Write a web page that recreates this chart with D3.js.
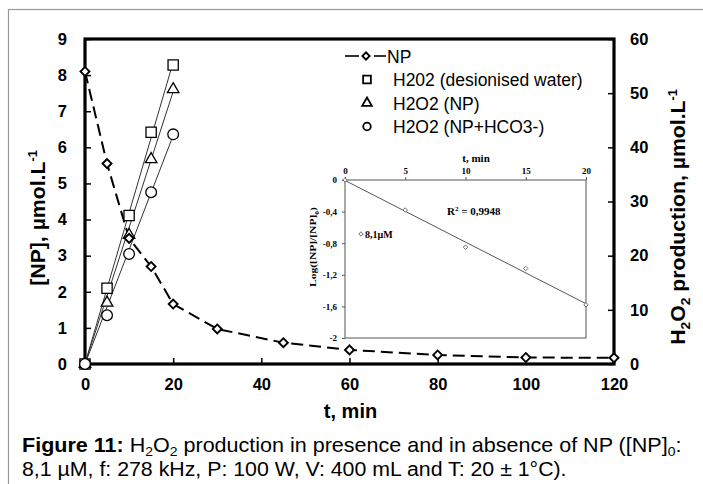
<!DOCTYPE html>
<html>
<head>
<meta charset="utf-8">
<script src="https://cdn.jsdelivr.net/npm/d3@7"></script>
<style>
  body { margin: 0; background: #fff; }
  svg text { font-family: "Liberation Sans", Arial, sans-serif; }
  .serif text { font-family: "Liberation Serif", "Times New Roman", serif; }
</style>
</head>
<body>
<div id="chart"></div>
<script>
// main chart data
const tNP = [0, 5, 10, 15, 20, 30, 45, 60, 80, 100, 120];
const npConc = [8.1, 5.55, 3.48, 2.7, 1.66, 0.97, 0.59, 0.39, 0.25, 0.18, 0.17];

const tH2O2 = [0, 5, 10, 15, 20];
const h2o2Water = [0, 14.0, 27.4, 42.8, 55.2];
const h2o2NP = [0, 11.3, 23.8, 37.8, 50.7];
const h2o2Hco3 = [0, 9.0, 20.3, 31.7, 42.4];

const xTicks = [0, 20, 40, 60, 80, 100, 120];
const yLeftTicks = [0, 1, 2, 3, 4, 5, 6, 7, 8, 9];
const yRightTicks = [0, 10, 20, 30, 40, 50, 60];

const legendLabels = ["NP", "H202 (desionised water)", "H2O2 (NP)", "H2O2 (NP+HCO3-)"];

// inset data
const tInset = [0, 5, 10, 15, 20];
const logRatio = [0, -0.38, -0.85, -1.12, -1.58];
const insetXTicks = [0, 5, 10, 15, 20];
const insetYTicks = [0, -0.4, -0.8, -1.2, -1.6, -2];

const W = 703, H = 484;
const m = {left: 85, right: 614, top: 39, bottom: 364};

const svg = d3.select("#chart").append("svg")
    .attr("width", W).attr("height", H);

// outer grey frame
svg.append("rect")
    .attr("x", 8.5).attr("y", 9.5)
    .attr("width", 720).attr("height", 500)
    .attr("fill", "none").attr("stroke", "#999").attr("stroke-width", 1.2);

const x = d3.scaleLinear().domain([0, 120]).range([m.left, m.right]);
const yL = d3.scaleLinear().domain([0, 9]).range([m.bottom, m.top]);
const yR = d3.scaleLinear().domain([0, 60]).range([m.bottom, m.top]);

const fmtComma = d => String(d).replace(".", ",");

// stretch a text node along its length to a target width
function stretch(sel, target, tx, ty, rot) {
    const w = sel.node().getBBox().width;
    const k = target / w;
    sel.attr("transform", `translate(${tx},${ty})${rot ? " rotate(" + rot + ")" : ""} scale(${k},1)`);
}

// axes (ticks inward)
const axX = svg.append("g")
    .attr("transform", `translate(0,${m.bottom})`)
    .call(d3.axisBottom(x).tickValues(xTicks).tickSize(-6).tickPadding(14));
const axL = svg.append("g")
    .attr("transform", `translate(${m.left},0)`)
    .call(d3.axisLeft(yL).tickValues(yLeftTicks).tickSize(-6).tickPadding(18));
const axR = svg.append("g")
    .attr("transform", `translate(${m.right},0)`)
    .call(d3.axisRight(yR).tickValues(yRightTicks).tickSize(-6).tickPadding(16));

[axX, axL, axR].forEach(a => {
    a.select(".domain").remove();
    a.selectAll(".tick line").attr("stroke", "#000").attr("stroke-width", 1.5);
    a.selectAll(".tick text")
        .attr("font-size", 16.5).attr("font-weight", "bold").attr("fill", "#000");
});
axX.selectAll(".tick text").attr("dy", "0.71em");

// thick plot box
svg.append("rect")
    .attr("x", m.left).attr("y", m.top)
    .attr("width", m.right - m.left).attr("height", m.bottom - m.top)
    .attr("fill", "none").attr("stroke", "#000").attr("stroke-width", 3.2);

// axis titles
svg.append("text")
    .attr("x", (m.left + m.right) / 2 + 1).attr("y", 418)
    .attr("text-anchor", "middle")
    .attr("font-size", 20).attr("font-weight", "bold")
    .text("t, min");

const yLab = svg.append("text")
    .attr("text-anchor", "middle")
    .attr("font-size", 20).attr("font-weight", "bold");
yLab.append("tspan").text("[NP], µmol.L");
yLab.append("tspan").attr("dy", -8).attr("font-size", 12).text("-1");
stretch(yLab, 136, 45, 218, -90);

const yRLab = svg.append("text")
    .attr("text-anchor", "middle")
    .attr("font-size", 20).attr("font-weight", "bold");
yRLab.append("tspan").text("H");
yRLab.append("tspan").attr("dy", 5).attr("font-size", 13).text("2");
yRLab.append("tspan").attr("dy", -5).text("O");
yRLab.append("tspan").attr("dy", 5).attr("font-size", 13).text("2");
yRLab.append("tspan").attr("dy", -5).text(" production, µmol.L");
yRLab.append("tspan").attr("dy", -8).attr("font-size", 12).text("-1");
stretch(yRLab, 256, 685, 217, -90);

// linear fit helper
function fit(xs, ys) {
    const mx = d3.mean(xs), my = d3.mean(ys);
    let sxy = 0, sxx = 0;
    xs.forEach((v, i) => {
        sxy += (v - mx) * (ys[i] - my);
        sxx += (v - mx) ** 2;
    });
    const b = sxy / sxx;
    return {b: b, a: my - b * mx};
}

// H2O2 trend lines
const h2o2Series = [
    {vals: h2o2Water, sym: d3.symbolSquare, size: 105},
    {vals: h2o2NP, sym: d3.symbolTriangle, size: 58},
    {vals: h2o2Hco3, sym: d3.symbolCircle, size: 90}
];
h2o2Series.forEach(s => {
    const f = fit(tH2O2, s.vals);
    const x0 = d3.min(tH2O2), x1 = d3.max(tH2O2);
    svg.append("line")
        .attr("x1", x(x0)).attr("y1", yR(Math.max(0, f.a + f.b * x0)))
        .attr("x2", x(x1)).attr("y2", yR(f.a + f.b * x1))
        .attr("stroke", "#333").attr("stroke-width", 1);
});

// NP dashed line
svg.append("path")
    .datum(tNP.map((t, i) => [t, npConc[i]]))
    .attr("fill", "none").attr("stroke", "#000").attr("stroke-width", 2)
    .attr("stroke-dasharray", "12,6")
    .attr("d", d3.line().x(d => x(d[0])).y(d => yL(d[1])));

// markers
function marker(g, sym, size, rot) {
    return g.append("path")
        .attr("d", d3.symbol().type(sym).size(size))
        .attr("transform", rot ? `rotate(${rot})` : null)
        .attr("fill", "#fff").attr("stroke", "#000").attr("stroke-width", 1.3);
}
h2o2Series.forEach(s => {
    s.vals.forEach((v, i) => {
        marker(svg.append("g").attr("transform", `translate(${x(tH2O2[i])},${yR(v)})`), s.sym, s.size);
    });
});
tNP.forEach((t, i) => {
    marker(svg.append("g").attr("transform", `translate(${x(t)},${yL(npConc[i])})`), d3.symbolSquare, 40, 45)
        .attr("stroke-width", 1.9);
});

// legend
const legRows = [56, 79.5, 103, 126.5];
const leg = svg.append("g");
leg.append("line").attr("x1", 345).attr("x2", 359).attr("y1", legRows[0]).attr("y2", legRows[0])
    .attr("stroke", "#000").attr("stroke-width", 1.6);
leg.append("line").attr("x1", 374).attr("x2", 386).attr("y1", legRows[0]).attr("y2", legRows[0])
    .attr("stroke", "#000").attr("stroke-width", 1.6);
marker(leg.append("g").attr("transform", `translate(366,${legRows[0]})`), d3.symbolSquare, 26, 45)
    .attr("stroke-width", 1.9);
const legSyms = [null, {t: d3.symbolSquare, s: 60}, {t: d3.symbolTriangle, s: 40}, {t: d3.symbolCircle, s: 45}];
legendLabels.forEach((label, i) => {
    const y = legRows[i];
    if (legSyms[i]) {
        marker(leg.append("g").attr("transform", `translate(367,${y})`), legSyms[i].t, legSyms[i].s)
            .attr("stroke-width", 1.8);
    }
    leg.append("text").attr("x", i === 0 ? 387 : 393).attr("y", y + 6.5)
        .attr("font-size", 17.5).text(label);
});

// inset
const ins = {left: 345, right: 586, top: 180, bottom: 338};
const xi = d3.scaleLinear().domain([0, 20]).range([ins.left, ins.right]);
const yi = d3.scaleLinear().domain([-2, 0]).range([ins.bottom, ins.top]);
const inset = svg.append("g").attr("class", "serif");

inset.append("rect")
    .attr("x", ins.left).attr("y", ins.top)
    .attr("width", ins.right - ins.left).attr("height", ins.bottom - ins.top)
    .attr("fill", "#fff").attr("stroke", "#555").attr("stroke-width", 1);

const iax = inset.append("g").attr("transform", `translate(0,${ins.top})`)
    .call(d3.axisTop(xi).tickValues(insetXTicks).tickSize(3).tickPadding(3));
const iay = inset.append("g").attr("transform", `translate(${ins.left},0)`)
    .call(d3.axisLeft(yi).tickValues(insetYTicks).tickSize(3).tickPadding(5)
        .tickFormat(d => d === 0 ? "0" : fmtComma(d)));
[iax, iay].forEach(a => {
    a.select(".domain").remove();
    a.selectAll(".tick line").attr("stroke", "#555");
    a.selectAll(".tick text").attr("font-size", 9).attr("font-weight", "bold").attr("fill", "#000");
});

inset.append("text").attr("x", 476).attr("y", 162)
    .attr("text-anchor", "middle").attr("font-size", 11).attr("font-weight", "bold")
    .text("t, min");

const iyl = inset.append("text")
    .attr("text-anchor", "middle").attr("font-size", 9).attr("font-weight", "bold")
    .attr("font-family", "Liberation Sans, Arial, sans-serif");
iyl.append("tspan").text("Log([NP]/[NP]");
iyl.append("tspan").attr("dy", 3).attr("font-size", 6).text("0");
iyl.append("tspan").attr("dy", -3).text(")");
stretch(iyl, 80, 316, 247, -90);

const fi = fit(tInset, logRatio);
inset.append("line")
    .attr("x1", xi(0)).attr("y1", yi(Math.min(0, fi.a)))
    .attr("x2", xi(20)).attr("y2", yi(fi.a + fi.b * 20))
    .attr("stroke", "#555").attr("stroke-width", 1);

tInset.forEach((t, i) => {
    inset.append("path")
        .attr("transform", `translate(${xi(t)},${yi(logRatio[i])}) rotate(45)`)
        .attr("d", d3.symbol().type(d3.symbolSquare).size(10))
        .attr("fill", "#fff").attr("stroke", "#555").attr("stroke-width", 0.8);
});

const r2 = inset.append("text").attr("x", 447).attr("y", 215)
    .attr("font-size", 11).attr("font-weight", "bold");
r2.append("tspan").text("R");
r2.append("tspan").attr("dy", -4).attr("font-size", 7).text("2");
r2.append("tspan").attr("dy", 4).text(" = 0,9948");

inset.append("path")
    .attr("transform", "translate(361,234) rotate(45)")
    .attr("d", d3.symbol().type(d3.symbolSquare).size(10))
    .attr("fill", "#fff").attr("stroke", "#555").attr("stroke-width", 0.8);
inset.append("text").attr("x", 365).attr("y", 238)
    .attr("font-size", 10).attr("font-weight", "bold").text("8,1µM");

// caption
const cap1 = svg.append("text").attr("font-size", 20);
cap1.append("tspan").attr("font-weight", "bold").text("Figure 11:");
cap1.append("tspan").text(" H");
cap1.append("tspan").attr("dy", 4).attr("font-size", 13).text("2");
cap1.append("tspan").attr("dy", -4).text("O");
cap1.append("tspan").attr("dy", 4).attr("font-size", 13).text("2");
cap1.append("tspan").attr("dy", -4).text(" production in presence and in absence of NP ([NP]");
cap1.append("tspan").attr("dy", 4).attr("font-size", 13).text("0");
cap1.append("tspan").attr("dy", -4).text(":");
stretch(cap1, 660, 22, 452);

const cap2 = svg.append("text").attr("font-size", 20)
    .text("8,1 µM, f: 278 kHz, P: 100 W, V: 400 mL and T: 20 ± 1°C).");
stretch(cap2, 545, 22, 476);
</script>
</body>
</html>
